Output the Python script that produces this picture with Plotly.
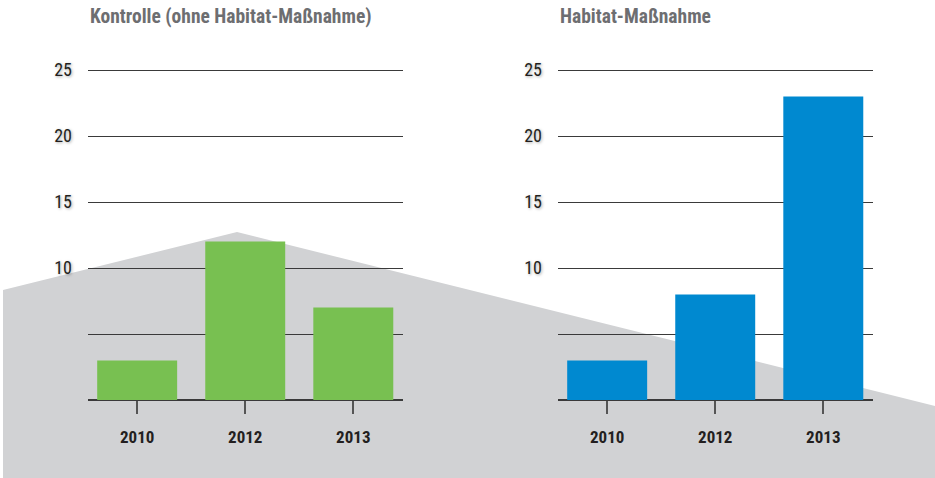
import plotly.graph_objects as go

W, H = 935, 478

years = ["2010", "2012", "2013"]
kontrolle = [3, 12, 7]
habitat = [3, 8, 23]
titles = ["Kontrolle (ohne Habitat-Maßnahme)", "Habitat-Maßnahme"]
y_tickvals = [0, 5, 10, 15, 20, 25]
y_ticktext = ["", "", "10", "15", "20", "25"]

FONT = "Roboto Condensed, Liberation Sans Narrow, sans-serif"
GREEN = "#78c051"
BLUE = "#0089d0"
GRAY_BG = "#d1d2d4"
TITLE_GRAY = "#6d6e71"
DARK = "#231f20"

fig = go.Figure()

fig.add_trace(go.Bar(x=years, y=kontrolle, marker=dict(color=GREEN, line_width=0),
                     xaxis="x", yaxis="y", hoverinfo="x+y"))
fig.add_trace(go.Bar(x=years, y=habitat, marker=dict(color=BLUE, line_width=0),
                     xaxis="x2", yaxis="y2", hoverinfo="x+y"))

YTOP = 25.1
PX_PER_UNIT = 13.2
ydom = [78 / H, (H - (400 - YTOP * PX_PER_UNIT)) / H]
xdom1 = [88 / W, 403 / W]
xdom2 = [558 / W, 873 / W]

def xaxis(domain, anchor):
    return dict(domain=domain, anchor=anchor, type="category",
                range=[-0.455, 2.46], showgrid=False, zeroline=False,
                showline=False, ticks="outside", ticklen=13, tickwidth=1.5,
                tickcolor="#555555", automargin=False,
                tickfont=dict(family=FONT, size=17, color=DARK, weight="bold"),
                ticklabelstandoff=9, fixedrange=True)

def yaxis(anchor):
    return dict(domain=ydom, anchor=anchor, range=[0, YTOP],
                tickvals=y_tickvals, ticktext=y_ticktext,
                showgrid=True, gridcolor="#3a3a3a", gridwidth=1,
                zeroline=True, zerolinecolor="#3a3a3a", zerolinewidth=1.5,
                showline=False, ticks="", ticklabelstandoff=15, automargin=False,
                tickfont=dict(family=FONT, size=18, color=DARK,
                              shadow="1px 1px 3px rgba(0,0,0,0.35)"),
                fixedrange=True)

fig.update_layout(
    width=W, height=H, autosize=False,
    margin=dict(l=0, r=0, t=0, b=0, pad=0, autoexpand=False),
    paper_bgcolor="white", plot_bgcolor="rgba(0,0,0,0)",
    showlegend=False, bargap=0.26,
    xaxis=xaxis(xdom1, "y"), yaxis=yaxis("x"),
    xaxis2=xaxis(xdom2, "y2"), yaxis2=yaxis("x2"),
)

# grey background polygon (paper coords)
def px(x, y):
    return f"{x / W:.5f},{1 - y / H:.5f}"

path = ("M " + px(3, 290) + " L " + px(237, 232) + " L " + px(935, 406)
        + " L " + px(935, 478) + " L " + px(3, 478) + " Z")
fig.add_shape(type="path", xref="paper", yref="paper", path=path,
              fillcolor=GRAY_BG, line_width=0, layer="below")

for t, x0 in zip(titles, [88, 558]):
    fig.add_annotation(text=t, xref="paper", yref="paper", x=x0 / W, y=1 - 17 / H,
                       xanchor="left", yanchor="middle", showarrow=False,
                       font=dict(family=FONT, size=19.5, color=TITLE_GRAY, weight="bold"))

fig.write_html("out.html", config={"displayModeBar": False},
               post_script="document.body.style.margin='0';")
